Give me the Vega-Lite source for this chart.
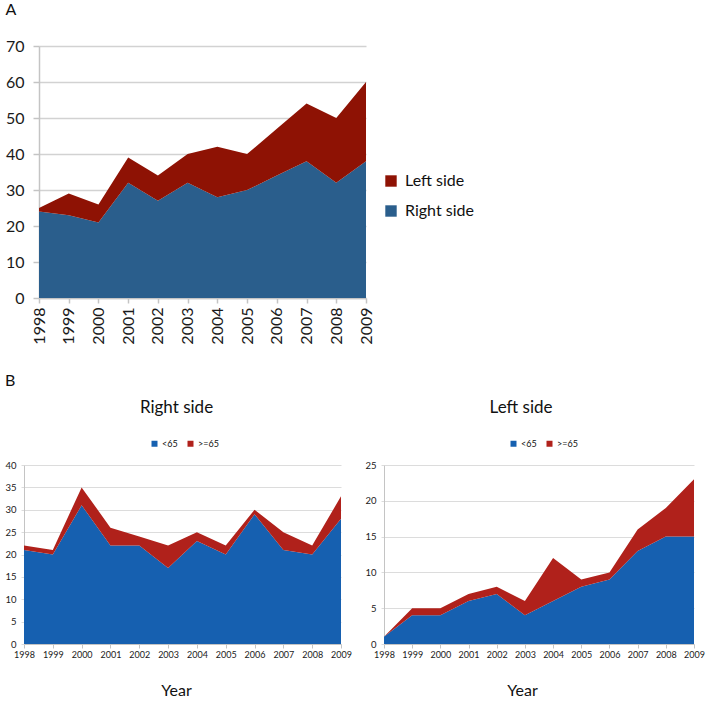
{
  "$schema": "https://vega.github.io/schema/vega-lite/v6.json",
  "padding": {"left": 4, "top": 2, "right": 2, "bottom": 2},
  "background": "white",
  "config": {
    "font": "Lato",
    "view": {"stroke": null},
    "axis": {"domainColor": "#c4c4c4", "tickColor": "#c4c4c4", "gridColor": "#d2d2d2", "labelColor": "#1a1a1a", "titleColor": "#111111", "labelFont": "Lato", "titleFont": "Lato"},
    "legend": {"labelFont": "Lato", "labelColor": "#111111"},
    "title": {"font": "Lato", "color": "#111111", "fontWeight": "normal"}
  },
  "datasets": {
    "a": [
      {"year": "1998", "series": "Right side", "value": 24}, {"year": "1998", "series": "Left side", "value": 1},
      {"year": "1999", "series": "Right side", "value": 23}, {"year": "1999", "series": "Left side", "value": 6},
      {"year": "2000", "series": "Right side", "value": 21}, {"year": "2000", "series": "Left side", "value": 5},
      {"year": "2001", "series": "Right side", "value": 32}, {"year": "2001", "series": "Left side", "value": 7},
      {"year": "2002", "series": "Right side", "value": 27}, {"year": "2002", "series": "Left side", "value": 7},
      {"year": "2003", "series": "Right side", "value": 32}, {"year": "2003", "series": "Left side", "value": 8},
      {"year": "2004", "series": "Right side", "value": 28}, {"year": "2004", "series": "Left side", "value": 14},
      {"year": "2005", "series": "Right side", "value": 30}, {"year": "2005", "series": "Left side", "value": 10},
      {"year": "2006", "series": "Right side", "value": 34}, {"year": "2006", "series": "Left side", "value": 13},
      {"year": "2007", "series": "Right side", "value": 38}, {"year": "2007", "series": "Left side", "value": 16},
      {"year": "2008", "series": "Right side", "value": 32}, {"year": "2008", "series": "Left side", "value": 18},
      {"year": "2009", "series": "Right side", "value": 38}, {"year": "2009", "series": "Left side", "value": 22}
    ],
    "bright": [
      {"year": "1998", "age": "<65", "value": 21}, {"year": "1998", "age": ">=65", "value": 1},
      {"year": "1999", "age": "<65", "value": 20}, {"year": "1999", "age": ">=65", "value": 1},
      {"year": "2000", "age": "<65", "value": 31}, {"year": "2000", "age": ">=65", "value": 4},
      {"year": "2001", "age": "<65", "value": 22}, {"year": "2001", "age": ">=65", "value": 4},
      {"year": "2002", "age": "<65", "value": 22}, {"year": "2002", "age": ">=65", "value": 2},
      {"year": "2003", "age": "<65", "value": 17}, {"year": "2003", "age": ">=65", "value": 5},
      {"year": "2004", "age": "<65", "value": 23}, {"year": "2004", "age": ">=65", "value": 2},
      {"year": "2005", "age": "<65", "value": 20}, {"year": "2005", "age": ">=65", "value": 2},
      {"year": "2006", "age": "<65", "value": 29}, {"year": "2006", "age": ">=65", "value": 1},
      {"year": "2007", "age": "<65", "value": 21}, {"year": "2007", "age": ">=65", "value": 4},
      {"year": "2008", "age": "<65", "value": 20}, {"year": "2008", "age": ">=65", "value": 2},
      {"year": "2009", "age": "<65", "value": 28}, {"year": "2009", "age": ">=65", "value": 5}
    ],
    "bleft": [
      {"year": "1998", "age": "<65", "value": 1}, {"year": "1998", "age": ">=65", "value": 0},
      {"year": "1999", "age": "<65", "value": 4}, {"year": "1999", "age": ">=65", "value": 1},
      {"year": "2000", "age": "<65", "value": 4}, {"year": "2000", "age": ">=65", "value": 1},
      {"year": "2001", "age": "<65", "value": 6}, {"year": "2001", "age": ">=65", "value": 1},
      {"year": "2002", "age": "<65", "value": 7}, {"year": "2002", "age": ">=65", "value": 1},
      {"year": "2003", "age": "<65", "value": 4}, {"year": "2003", "age": ">=65", "value": 2},
      {"year": "2004", "age": "<65", "value": 6}, {"year": "2004", "age": ">=65", "value": 6},
      {"year": "2005", "age": "<65", "value": 8}, {"year": "2005", "age": ">=65", "value": 1},
      {"year": "2006", "age": "<65", "value": 9}, {"year": "2006", "age": ">=65", "value": 1},
      {"year": "2007", "age": "<65", "value": 13}, {"year": "2007", "age": ">=65", "value": 3},
      {"year": "2008", "age": "<65", "value": 15}, {"year": "2008", "age": ">=65", "value": 4},
      {"year": "2009", "age": "<65", "value": 15}, {"year": "2009", "age": ">=65", "value": 8}
    ],
    "empty": []
  },
  "resolve": {"scale": {"color": "independent"}, "legend": {"color": "independent"}},
  "spacing": 28,
  "vconcat": [
    {
      "title": {"text": "A", "anchor": "start", "frame": "bounds", "fontSize": 16, "offset": 20},
      "spacing": -20,
      "hconcat": [
        {
          "width": 1,
          "height": 1,
          "data": {"name": "empty"},
          "mark": {"type": "point", "opacity": 0},
          "encoding": {}
        },
        {
          "width": 327,
          "height": 252,
          "data": {"name": "a"},
          "mark": {"type": "area", "opacity": 1},
          "encoding": {
            "x": {"field": "year", "type": "ordinal", "scale": {"type": "point", "padding": 0},
                  "axis": {"title": null, "labelAngle": -90, "labelFontSize": 16, "tickSize": 5, "labelPadding": 4, "domainWidth": 1.5, "tickWidth": 1.5}},
            "y": {"field": "value", "type": "quantitative", "stack": "zero", "scale": {"domain": [0, 70]},
                  "axis": {"title": null, "values": [0, 10, 20, 30, 40, 50, 60, 70], "labelFontSize": 16, "tickSize": 6, "gridWidth": 1.5, "domainWidth": 1.5, "tickWidth": 1.5, "labelPadding": 9}},
            "color": {"field": "series", "type": "nominal",
                      "scale": {"domain": ["Left side", "Right side"], "range": ["#8E1204", "#2A5E8C"]},
                      "legend": {"orient": "none", "legendX": 359, "legendY": 127, "title": null, "symbolType": "square", "symbolSize": 130, "symbolStrokeWidth": 0, "symbolOpacity": 1, "labelFontSize": 16, "rowPadding": 14, "labelOffset": 6}},
            "order": {"field": "series", "sort": "descending"}
          }
        }
      ]
    },
    {
      "title": {"text": "B", "anchor": "start", "frame": "bounds", "fontSize": 16, "offset": 10},
      "spacing": 12,
      "resolve": {"scale": {"color": "independent"}, "legend": {"color": "independent"}},
      "hconcat": [
        {
          "title": {"text": "Right side", "fontSize": 17, "frame": "group", "anchor": "middle", "offset": 22, "dx": -6},
          "width": 317,
          "height": 179,
          "data": {"name": "bright"},
          "mark": {"type": "area", "opacity": 1},
          "encoding": {
            "x": {"field": "year", "type": "ordinal", "scale": {"type": "point", "padding": 0},
                  "axis": {"title": "Year", "titleX": 152, "titleFontSize": 16, "titleFontWeight": "normal", "titlePadding": 23, "labelAngle": 0, "labelFontSize": 9, "tickSize": 4}},
            "y": {"field": "value", "type": "quantitative", "stack": "zero", "scale": {"domain": [0, 40]},
                  "axis": {"title": null, "values": [0, 5, 10, 15, 20, 25, 30, 35, 40], "labelFontSize": 9.5, "tickSize": 3, "tickColor": "#dcdcdc", "labelPadding": 5, "gridColor": "#dcdcdc"}},
            "color": {"field": "age", "type": "nominal",
                      "scale": {"domain": ["<65", ">=65"], "range": ["#1660B0", "#B0211B"]},
                      "legend": {"orient": "none", "direction": "horizontal", "legendX": 126, "legendY": -26, "title": null, "symbolType": "square", "symbolSize": 36, "symbolStrokeWidth": 0, "symbolOpacity": 1, "labelFontSize": 9, "columnPadding": 8, "labelOffset": 3}},
            "order": {"field": "age", "sort": "ascending"}
          }
        },
        {
          "title": {"text": "Left side", "fontSize": 17, "frame": "group", "anchor": "middle", "offset": 22, "dx": -18},
          "width": 310,
          "height": 179,
          "data": {"name": "bleft"},
          "mark": {"type": "area", "opacity": 1},
          "encoding": {
            "x": {"field": "year", "type": "ordinal", "scale": {"type": "point", "padding": 0},
                  "axis": {"title": "Year", "titleX": 138, "titleFontSize": 16, "titleFontWeight": "normal", "titlePadding": 23, "labelAngle": 0, "labelFontSize": 9, "tickSize": 4}},
            "y": {"field": "value", "type": "quantitative", "stack": "zero", "scale": {"domain": [0, 25]},
                  "axis": {"title": null, "values": [0, 5, 10, 15, 20, 25], "labelFontSize": 9.5, "tickSize": 3, "tickColor": "#dcdcdc", "labelPadding": 5, "gridColor": "#dcdcdc"}},
            "color": {"field": "age", "type": "nominal",
                      "scale": {"domain": ["<65", ">=65"], "range": ["#1660B0", "#B0211B"]},
                      "legend": {"orient": "none", "direction": "horizontal", "legendX": 125, "legendY": -26, "title": null, "symbolType": "square", "symbolSize": 36, "symbolStrokeWidth": 0, "symbolOpacity": 1, "labelFontSize": 9, "columnPadding": 8, "labelOffset": 3}},
            "order": {"field": "age", "sort": "ascending"}
          }
        }
      ]
    }
  ]
}
